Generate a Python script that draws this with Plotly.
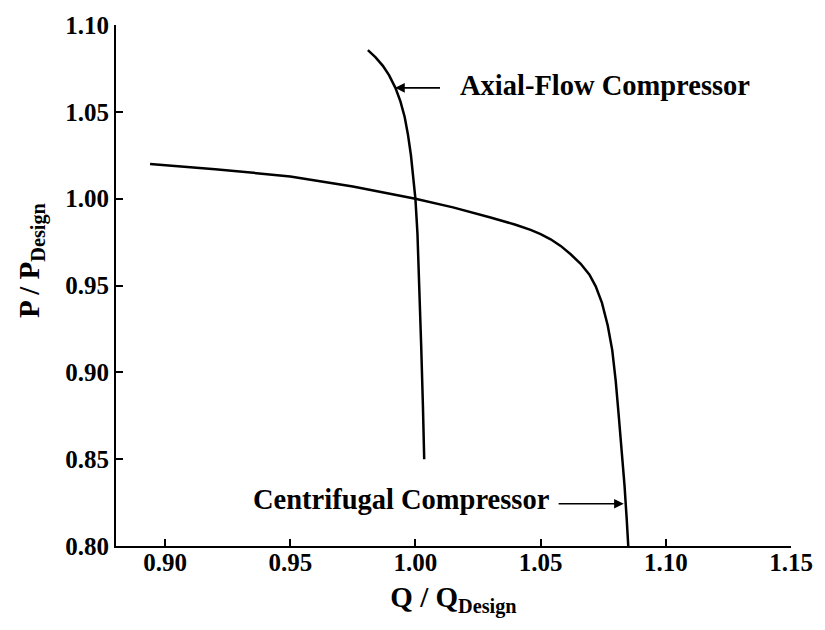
import plotly.graph_objects as go

# Centrifugal compressor characteristic (Q/Qdesign, P/Pdesign)
cent_q = [0.894, 0.92, 0.95, 0.975, 1.000, 1.015, 1.030, 1.040, 1.046, 1.050, 1.054, 1.058, 1.062, 1.066, 1.0695, 1.0720, 1.0745, 1.0768, 1.0786, 1.0800, 1.0812, 1.0824, 1.0835, 1.0844, 1.085]
cent_p = [1.020, 1.017, 1.0128, 1.007, 1.000, 0.995, 0.9892, 0.9850, 0.9820, 0.9796, 0.9766, 0.9728, 0.9680, 0.9625, 0.9562, 0.9495, 0.9400, 0.9270, 0.9128, 0.8950, 0.8750, 0.8550, 0.8350, 0.8150, 0.800]

# Axial-flow compressor characteristic
axial_q = [0.981, 0.984, 0.987, 0.9895, 0.992, 0.994, 0.9957, 0.997, 0.9982, 0.9992, 1.0000, 1.0008, 1.0016, 1.0023, 1.0030, 1.0035]
axial_p = [1.0855, 1.0815, 1.0765, 1.0710, 1.0638, 1.0560, 1.0470, 1.0370, 1.0250, 1.0120, 0.9997, 0.9800, 0.9500, 0.9150, 0.8800, 0.8500]

x_ticks = [0.90, 0.95, 1.00, 1.05, 1.10, 1.15]
y_ticks = [0.80, 0.85, 0.90, 0.95, 1.00, 1.05, 1.10]

FONT = "Liberation Serif"

fig = go.Figure()
fig.add_trace(go.Scatter(x=cent_q, y=cent_p, mode="lines", line=dict(color="black", width=2.5), showlegend=False))
fig.add_trace(go.Scatter(x=axial_q, y=axial_p, mode="lines", line=dict(color="black", width=2.5), showlegend=False))

# Arrows
fig.add_annotation(x=0.9919, y=1.0638, ax=1.0104, ay=1.0638, xref="x", yref="y", axref="x", ayref="y",
                   text="", showarrow=True, arrowhead=2, arrowsize=1.2, arrowwidth=1.6, arrowcolor="black")
fig.add_annotation(x=1.0832, y=0.8243, ax=1.0566, ay=0.8243, xref="x", yref="y", axref="x", ayref="y",
                   text="", showarrow=True, arrowhead=2, arrowsize=1.2, arrowwidth=1.6, arrowcolor="black")
# Labels
fig.add_annotation(x=1.0171, y=1.0649, xref="x", yref="y", text="<b>Axial-Flow Compressor</b>", showarrow=False,
                   xanchor="left", yanchor="middle", font=dict(family=FONT, size=28.5, color="black"))
fig.add_annotation(x=0.9342, y=0.8265, xref="x", yref="y", text="<b>Centrifugal Compressor</b>", showarrow=False,
                   xanchor="left", yanchor="middle", font=dict(family=FONT, size=28.5, color="black"))

# Y-axis title (placed as annotation to match position)
fig.add_annotation(x=-0.125, y=0.548, xref="paper", yref="paper", text="<b>P / P<sub>Design</sub></b>",
                   showarrow=False, textangle=-90, xanchor="center", yanchor="middle",
                   font=dict(family=FONT, size=29, color="black"))

axis_common = dict(showgrid=False, zeroline=False, showline=True, linecolor="black", linewidth=2,
                   ticks="inside", ticklen=7, tickwidth=2, tickcolor="black", tickformat=".2f",
                   tickfont=dict(family=FONT, size=25, color="black", weight="bold"))

fig.update_xaxes(range=[0.8804, 1.15], tickvals=x_ticks, ticklabelstandoff=-7,
                 title=dict(text="<b>Q / Q<sub>Design</sub></b>", font=dict(family=FONT, size=29, color="black"), standoff=12),
                 **axis_common)
fig.update_yaxes(range=[0.80, 1.10], tickvals=y_ticks, **axis_common)

fig.update_layout(width=825, height=630, margin=dict(l=116, r=22, t=16, b=84),
                  plot_bgcolor="white", paper_bgcolor="white")

fig.write_html("out.html")
